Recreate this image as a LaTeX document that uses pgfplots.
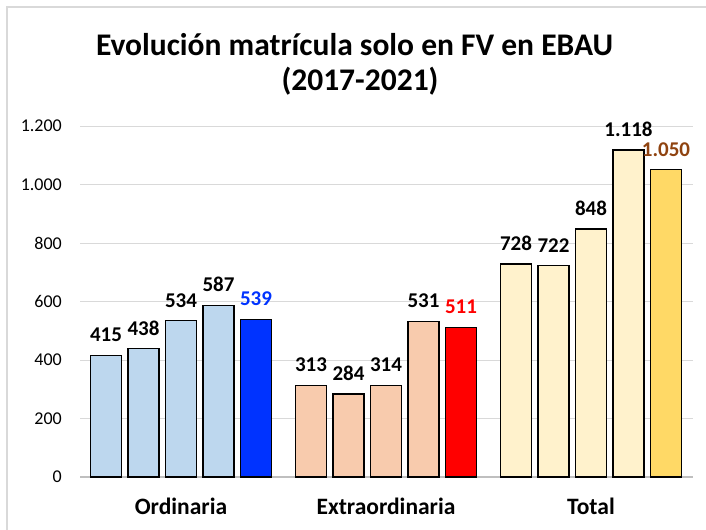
\documentclass[border=0pt]{standalone}
\usepackage{pgfplots}
\pgfplotsset{compat=1.18}
\usepackage{fontspec}
\setmainfont{Carlito}
\definecolor{ordL}{HTML}{BDD7EE}
\definecolor{ordD}{HTML}{0033FF}
\definecolor{extL}{HTML}{F8CBAD}
\definecolor{extD}{HTML}{FF0000}
\definecolor{totL}{HTML}{FFF2CC}
\definecolor{totD}{HTML}{FFD966}
\definecolor{totLab}{HTML}{8F4310}
\definecolor{gridc}{HTML}{D9D9D9}
\definecolor{axc}{HTML}{BFBFBF}
\definecolor{framec}{HTML}{D9D9D9}
\pgfkeys{/pgf/number format/.cd, 1000 sep={.}, assume math mode=true}
\begin{document}
\begin{tikzpicture}
\useasboundingbox (0bp,-530bp) rectangle (706bp,0bp);
\draw[color=framec, line width=1.5bp] (7bp,-531bp) -- (7bp,-7bp) -- (707bp,-7bp);
\node[anchor=base, font=\bfseries\fontsize{31.5bp}{36bp}\selectfont] at (354.5bp,-55bp) {Evolución matrícula solo en FV en EBAU};
\node[anchor=base, font=\bfseries\fontsize{31.5bp}{36bp}\selectfont] at (360bp,-90bp) {(2017-2021)};
\begin{axis}[
  at={(80bp,-477bp)}, anchor=south west,
  scale only axis, width=613bp, height=351bp,
  xmin=80, xmax=693, ymin=0, ymax=1200,
  ytick={0,200,...,1200},
  xtick={181,386,591},
  xticklabels={Ordinaria,Extraordinaria,Total},
  scaled y ticks=false,
  major tick length=0pt,
  axis lines*=left,
  y axis line style={draw=none},
  x axis line style={draw=axc, line width=1.5bp, -},
  ymajorgrids,
  grid style={draw=gridc, line width=1bp},
  yticklabel style={font=\fontsize{18bp}{21bp}\selectfont, inner sep=0pt, anchor=east, xshift=-18bp},
  xticklabel style={font=\bfseries\fontsize{23.5bp}{27bp}\selectfont, inner sep=0pt, anchor=north, yshift=-21bp},
  ybar, bar width=31, bar shift=0pt,
  clip=false,
  every axis plot/.append style={draw=black, line width=1.2bp},
  nodes near coords,
  every node near coord/.append style={font=\bfseries\fontsize{21bp}{24bp}\selectfont, inner sep=0pt, anchor=south, yshift=13bp},
]
\addplot[fill=ordL] coordinates {(106,415) (143.5,438) (181,534) (218.5,587)};
\addplot[fill=ordD, nodes near coords style={text=ordD}] coordinates {(256,539)};
\addplot[fill=extL] coordinates {(311,313) (348.5,284) (386,314) (423.5,531)};
\addplot[fill=extD, nodes near coords style={text=extD}] coordinates {(461,511)};
\addplot[fill=totL] coordinates {(516,728) (553.5,722) (591,848) (628.5,1118)};
\addplot[fill=totD, nodes near coords style={text=totLab}] coordinates {(666,1050)};
\end{axis}
\end{tikzpicture}
\end{document}
